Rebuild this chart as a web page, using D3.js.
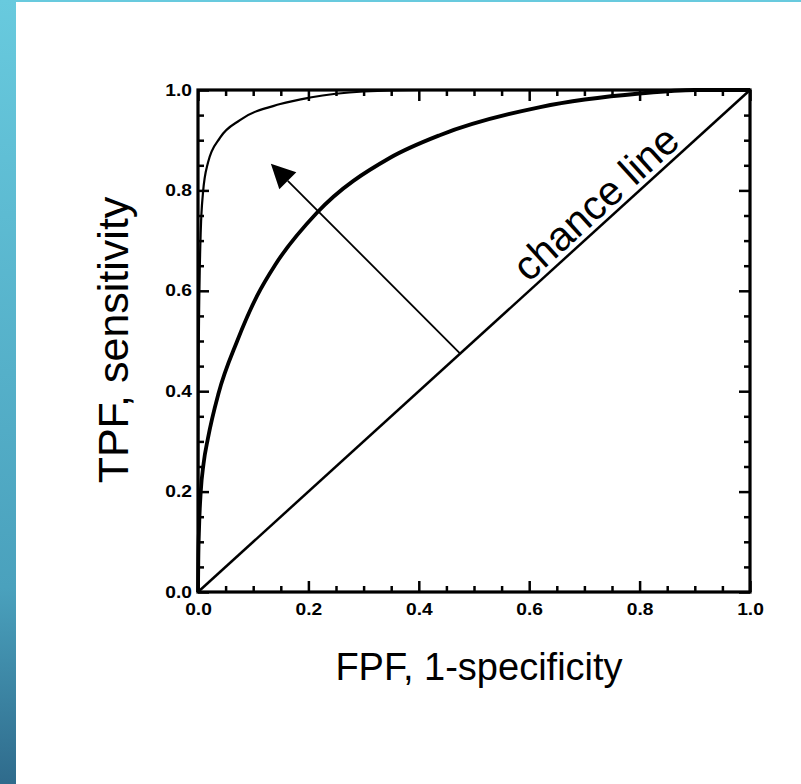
<!DOCTYPE html>
<html>
<head>
<meta charset="utf-8">
<script src="https://cdn.jsdelivr.net/npm/d3@7"></script>
<style>
  body { margin: 0; background: #fff; }
  svg { display: block; }
  .tick text { font-family: "Liberation Sans", Arial, sans-serif; font-weight: bold; font-size: 16px; fill: #000; }
  .tick line { stroke: #000; stroke-width: 2.5; }
  .title { font-family: "Liberation Sans", Arial, sans-serif; fill: #000; }
</style>
</head>
<body>
<svg id="chart" width="801" height="784"></svg>
<script>
// tick values
var majorTicks = [0, 0.2, 0.4, 0.6, 0.8, 1.0];
var minorTicks = [0.05, 0.1, 0.15, 0.25, 0.3, 0.35, 0.45, 0.5, 0.55, 0.65, 0.7, 0.75, 0.85, 0.9, 0.95];

// thick ROC curve
var midFpf = [0, 0.0005, 0.002, 0.005, 0.01, 0.018, 0.037, 0.071, 0.107, 0.14, 0.215, 0.348, 0.438, 0.62, 0.80, 0.9, 1.0];
var midTpf = [0, 0.06, 0.13, 0.2, 0.255, 0.306, 0.395, 0.5, 0.59, 0.652, 0.755, 0.865, 0.91, 0.966, 0.993, 1.0, 1.0];

// thin ROC curve, close to perfect
var highFpf = [0, 0.0005, 0.0015, 0.003, 0.005, 0.009, 0.018, 0.04, 0.076, 0.149, 0.203, 0.3, 0.4, 1.0];
var highTpf = [0, 0.3, 0.5, 0.63, 0.72, 0.795, 0.855, 0.905, 0.94, 0.972, 0.985, 0.997, 1.0, 1.0];

// chance line and arrow (tail, tip)
var chanceFpf = [0, 1];
var chanceTpf = [0, 1];
var arrowFpf = [0.475, 0.132];
var arrowTpf = [0.475, 0.853];

const plotLeft = 198, plotRight = 750, plotTop = 90, plotBottom = 592;

var svg = d3.select('#chart');

// side strips
var grad = svg.append('defs').append('linearGradient')
  .attr('id', 'strip').attr('x1', 0).attr('y1', 0).attr('x2', 0).attr('y2', 1);
grad.append('stop').attr('offset', '0%').attr('stop-color', '#68cade');
grad.append('stop').attr('offset', '75%').attr('stop-color', '#4aa1bd');
grad.append('stop').attr('offset', '100%').attr('stop-color', '#2f6b8c');
svg.append('rect').attr('x', 0).attr('y', 0).attr('width', 801).attr('height', 2).attr('fill', '#68cade');
svg.append('rect').attr('x', 0).attr('y', 0).attr('width', 16).attr('height', 784).attr('fill', 'url(#strip)');

var x = d3.scaleLinear().domain([0, 1]).range([plotLeft, plotRight]);
var y = d3.scaleLinear().domain([0, 1]).range([plotBottom, plotTop]);

function addAxis(axis, tx, ty, vals, size, labels) {
  var g = svg.append('g')
    .attr('transform', 'translate(' + tx + ',' + ty + ')')
    .call(axis.tickValues(vals).tickSize(size).tickSizeOuter(0)
      .tickFormat(labels ? d3.format('.1f') : ''));
  g.select('.domain').remove();
  // the labels are wide and squat in the original
  g.selectAll('.tick text').attr('transform', 'scale(1.2,1)');
  return g;
}

// inward ticks on all four sides
addAxis(d3.axisBottom(x).tickPadding(12), 0, plotBottom, majorTicks, -11, true);
addAxis(d3.axisBottom(x), 0, plotBottom, minorTicks, -6, false);
addAxis(d3.axisTop(x), 0, plotTop, majorTicks, -11, false);
addAxis(d3.axisTop(x), 0, plotTop, minorTicks, -6, false);
addAxis(d3.axisLeft(y).tickPadding(5), plotLeft, 0, majorTicks, -11, true);
addAxis(d3.axisLeft(y), plotLeft, 0, minorTicks, -6, false);
addAxis(d3.axisRight(y), plotRight, 0, majorTicks, -11, false);
addAxis(d3.axisRight(y), plotRight, 0, minorTicks, -6, false);

var line = d3.line()
  .x(function (d) { return x(d[0]); })
  .y(function (d) { return y(d[1]); });

svg.append('path')
  .datum(d3.zip(chanceFpf, chanceTpf))
  .attr('d', line)
  .attr('fill', 'none').attr('stroke', '#000').attr('stroke-width', 2.5);

svg.append('path')
  .datum(d3.zip(highFpf, highTpf))
  .attr('d', line.curve(d3.curveMonotoneX))
  .attr('fill', 'none').attr('stroke', '#000').attr('stroke-width', 2.2);

svg.append('path')
  .datum(d3.zip(midFpf, midTpf))
  .attr('d', line.curve(d3.curveMonotoneX))
  .attr('fill', 'none').attr('stroke', '#000').attr('stroke-width', 3.8);

// arrow
var x0 = x(arrowFpf[0]), y0 = y(arrowTpf[0]);
var x1 = x(arrowFpf[1]), y1 = y(arrowTpf[1]);
var len = Math.hypot(x1 - x0, y1 - y0);
var ux = (x1 - x0) / len, uy = (y1 - y0) / len;
var headLen = 24, headHalf = 12;
var bx = x1 - ux * headLen, by = y1 - uy * headLen;
svg.append('line')
  .attr('x1', x0).attr('y1', y0).attr('x2', bx).attr('y2', by)
  .attr('stroke', '#000').attr('stroke-width', 1.8);
svg.append('path')
  .attr('d', 'M' + x1 + ',' + y1 +
    'L' + (bx - uy * headHalf) + ',' + (by + ux * headHalf) +
    'L' + (bx + uy * headHalf) + ',' + (by - ux * headHalf) + 'Z')
  .attr('fill', '#000');

// frame
svg.append('rect')
  .attr('x', plotLeft).attr('y', plotTop)
  .attr('width', plotRight - plotLeft).attr('height', plotBottom - plotTop)
  .attr('fill', 'none').attr('stroke', '#000').attr('stroke-width', 3.2);

// chance line label, rotated along the diagonal
var angle = Math.atan2(y(1) - y(0), x(1) - x(0)) * 180 / Math.PI;
var lx = x(0.745), ly = y(0.745);
svg.append('text')
  .attr('class', 'title')
  .attr('transform', 'translate(' + lx + ',' + ly + ') rotate(' + angle + ') translate(0,-6)')
  .attr('text-anchor', 'middle')
  .style('font-size', '41px')
  .text('chance line');

// axis titles
svg.append('text')
  .attr('class', 'title')
  .attr('x', 479).attr('y', 680)
  .attr('text-anchor', 'middle')
  .style('font-size', '38px')
  .text('FPF, 1-specificity');

svg.append('text')
  .attr('class', 'title')
  .attr('transform', 'translate(128,340) rotate(-90)')
  .attr('text-anchor', 'middle')
  .style('font-size', '43px')
  .text('TPF, sensitivity');
</script>
</body>
</html>
